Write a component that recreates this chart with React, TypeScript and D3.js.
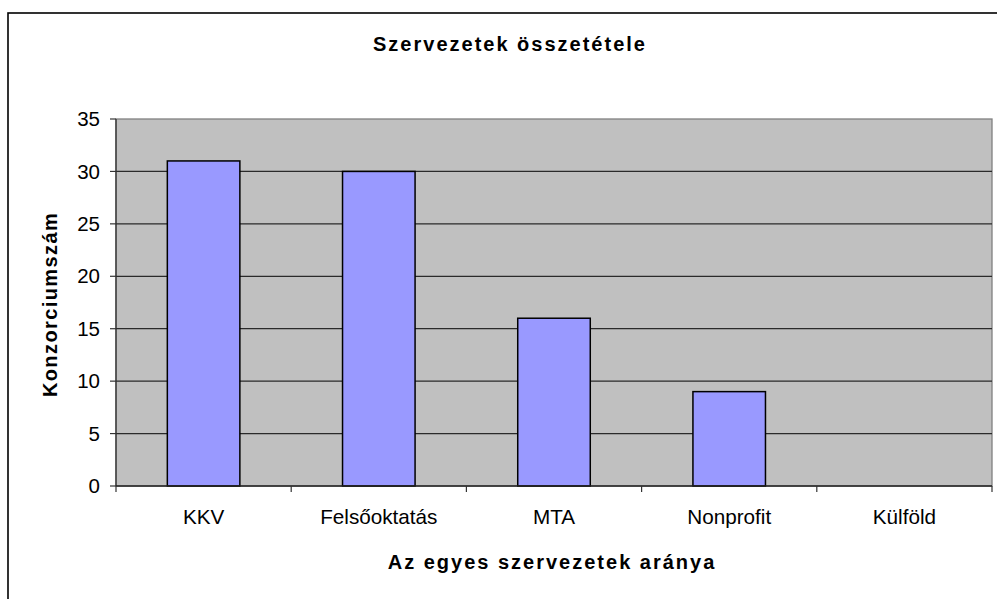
import React from "react";
import * as d3 from "d3";

const categories = ["KKV", "Felsőoktatás", "MTA", "Nonprofit", "Külföld"];
const values = [31, 30, 16, 9, 0];
const yTicks = [0, 5, 10, 15, 20, 25, 30, 35];
const title = "Szervezetek összetétele";
const xTitle = "Az egyes szervezetek aránya";
const yTitle = "Konzorciumszám";

const W = 997;
const H = 599;
const plot = { left: 116, right: 992, top: 119, bottom: 486 };
const FONT = "'Liberation Sans', Arial, sans-serif";

export default function App() {
  const x = d3
    .scaleBand<string>()
    .domain(categories)
    .range([plot.left, plot.right])
    .paddingInner(0.586)
    .paddingOuter(0.293);
  const y = d3.scaleLinear().domain([0, 35]).range([plot.bottom, plot.top]);
  const step = x.step();
  const boundaries = d3.range(categories.length + 1).map((i) => plot.left + i * step);

  return (
    <svg
      width={W}
      height={H}
      style={{ position: "absolute", left: 0, top: 0, background: "#fff" }}
      fontFamily={FONT}
    >
      <rect x={8} y={13} width={W + 20} height={H + 20} fill="#fff" stroke="#000" strokeWidth={1.6} />
      <rect
        x={plot.left}
        y={plot.top}
        width={plot.right - plot.left}
        height={plot.bottom - plot.top}
        fill="#C0C0C0"
        stroke="#808080"
        strokeWidth={1.3}
      />
      {yTicks.slice(1, -1).map((t) => (
        <line key={"g" + t} x1={plot.left} x2={plot.right} y1={y(t)} y2={y(t)} stroke="#2a2a2a" strokeWidth={1.2} />
      ))}
      {categories.map((c, i) => (
        <rect
          key={c}
          x={x(c)}
          y={y(values[i])}
          width={x.bandwidth()}
          height={y(0) - y(values[i])}
          fill="#9999FF"
          stroke="#000"
          strokeWidth={1.5}
        />
      ))}
      <line x1={plot.left} x2={plot.left} y1={plot.top} y2={plot.bottom} stroke="#333" strokeWidth={1.3} />
      <line x1={plot.left} x2={plot.right} y1={plot.bottom} y2={plot.bottom} stroke="#222" strokeWidth={1.3} />
      {yTicks.map((t) => (
        <g key={"t" + t}>
          <line x1={plot.left - 6} x2={plot.left} y1={y(t)} y2={y(t)} stroke="#333" strokeWidth={1.2} />
          <text x={100} y={y(t)} dy="0.35em" textAnchor="end" fontSize={20.5} fill="#000">
            {t}
          </text>
        </g>
      ))}
      {boundaries.map((b, i) => (
        <line key={"b" + i} x1={b} x2={b} y1={plot.bottom} y2={plot.bottom + 6} stroke="#333" strokeWidth={1.2} />
      ))}
      {categories.map((c) => (
        <text key={"l" + c} x={(x(c) as number) + x.bandwidth() / 2} y={524} textAnchor="middle" fontSize={20.7} fill="#000">
          {c}
        </text>
      ))}
      <text x={510} y={51} textAnchor="middle" fontSize={20} fontWeight="bold" letterSpacing={2} fill="#000">
        {title}
      </text>
      <text x={552} y={569} textAnchor="middle" fontSize={20} fontWeight="bold" letterSpacing={2} fill="#000">
        {xTitle}
      </text>
      <text
        transform={`translate(57, ${(plot.top + plot.bottom) / 2 + 2}) rotate(-90)`}
        textAnchor="middle"
        fontSize={20}
        fontWeight="bold"
        letterSpacing={1.4}
        fill="#000"
      >
        {yTitle}
      </text>
    </svg>
  );
}
